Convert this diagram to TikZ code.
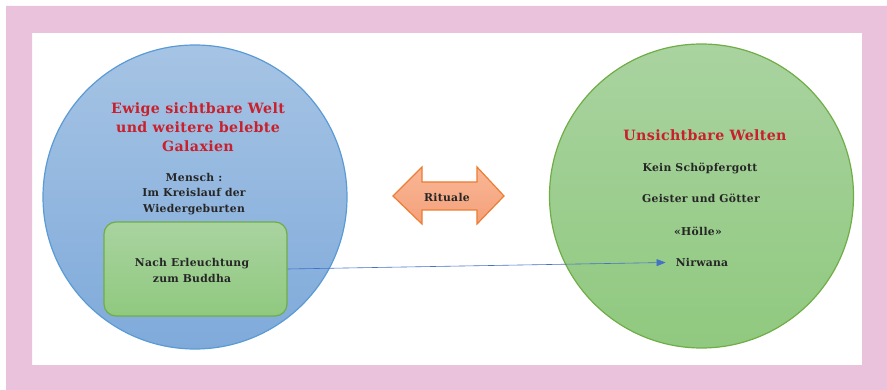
\documentclass[tikz,border=0pt]{standalone}
\usepackage{fontspec}
\setmainfont{DejaVu Serif}
\newfontfamily\spacedserif[LetterSpace=2.5]{DejaVu Serif}
\usetikzlibrary{arrows.meta}
\definecolor{framepink}{HTML}{EAC2DB}
\definecolor{titlered}{HTML}{C8202C}
\definecolor{bodyink}{HTML}{262626}
\definecolor{bluetop}{HTML}{A6C4E4}
\definecolor{bluebot}{HTML}{7FAADA}
\definecolor{blueedge}{HTML}{5B9BD5}
\definecolor{greentop}{HTML}{A9D3A0}
\definecolor{greenbot}{HTML}{90C97F}
\definecolor{greenedge}{HTML}{70AD47}
\definecolor{salmontop}{HTML}{F9B796}
\definecolor{salmonbot}{HTML}{F4A07A}
\definecolor{orangeedge}{HTML}{ED7D31}
\definecolor{linkblue}{HTML}{4472C4}
\tikzset{
  world/.style={circle, line width=1.2pt, minimum size=304pt, inner sep=0pt},
  bluebubble/.style={world, draw=blueedge, top color=bluetop, bottom color=bluebot},
  greenbubble/.style={world, draw=greenedge, top color=greentop, bottom color=greenbot},
  title/.style={text=titlered, font=\spacedserif\bfseries\fontsize{14.2}{19}\selectfont, align=center, inner sep=0pt},
  label/.style={text=bodyink, font=\spacedserif\bfseries\fontsize{10.8}{15.5}\selectfont, align=center, inner sep=0pt},
  conn/.style={draw=linkblue, line width=0.6pt, -{Triangle[length=9pt,width=7pt]}}
}
\begin{document}
\begin{tikzpicture}[x=1pt,y=-1pt]
\useasboundingbox (0,0) rectangle (887,390);
% frame
\fill[white] (0,0) rectangle (887,390);
\fill[framepink, even odd rule] (6,6) rectangle (887,390) (32,33) rectangle (862,365);

% the two worlds
\node[bluebubble] (visible) at (195,197) {};
\node[greenbubble] (invisible) at (701.5,196) {};

% left world texts
\node[title] (vtitle) at (198,127) {Ewige sichtbare Welt\\und weitere belebte\\Galaxien};
\node[label] (mensch) at (194,194) {Mensch :\\Im Kreislauf der\\Wiedergeburten};
\node[draw=greenedge, line width=1.2pt, rounded corners=12pt, top color=greentop, bottom color=greenbot,
      minimum width=183pt, minimum height=94pt, inner sep=0pt] (box) at (195.5,269) {};
\node[label] (buddha) at (192,270.5) {Nach Erleuchtung\\zum Buddha};

% right world texts
\node[title] (ititle) at (705,135) {Unsichtbare Welten};
\node[label] (nogod) at (700,168) {Kein Schöpfergott};
\node[label] (spirits) at (701,198) {Geister und Götter};
\node[label] (hell) at (698,231) {«Hölle»};
\node[label] (nirvana) at (702,262.5) {Nirwana};

% rituals double arrow
\path[draw=orangeedge, line width=1.2pt, top color=salmontop, bottom color=salmonbot]
  (393,196) -- (422,167) -- (422,182) -- (477,182) -- (477,167) -- (504,196)
  -- (477,224) -- (477,210) -- (422,210) -- (422,224) -- cycle;
\node[label] (rituals) at (447,197) {Rituale};

% path to nirvana
\draw[conn] (box.east) -- ([xshift=-10pt]nirvana.west);
\end{tikzpicture}
\end{document}
